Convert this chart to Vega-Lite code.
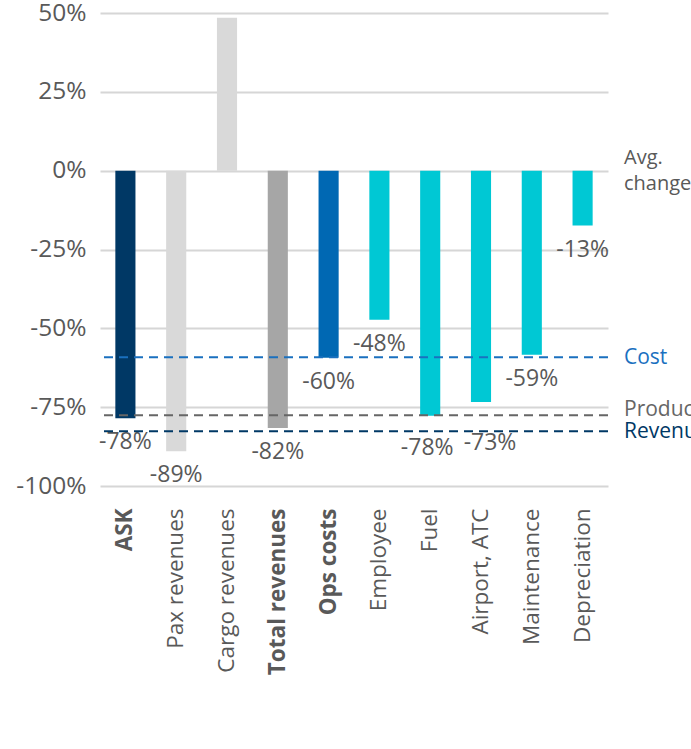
{
  "$schema": "https://vega.github.io/schema/vega-lite/v6.json",
  "width": 508,
  "height": 473,
  "autosize": "none",
  "padding": {"left": 100, "top": 13, "right": 83, "bottom": 263},
  "background": "white",
  "config": {"view": {"stroke": null}, "font": "Open Sans", "text": {"font": "Open Sans"}},
  "datasets": {
    "bars": [
      {"item": "ASK", "value": -78.5, "label": "-78%"},
      {"item": "Pax revenues", "value": -89, "label": "-89%"},
      {"item": "Cargo revenues", "value": 48.5, "label": null},
      {"item": "Total revenues", "value": -81.6, "label": "-82%"},
      {"item": "Ops costs", "value": -59.3, "label": "-60%"},
      {"item": "Employee", "value": -47.3, "label": "-48%"},
      {"item": "Fuel", "value": -77.7, "label": "-78%"},
      {"item": "Airport, ATC", "value": -73.4, "label": "-73%"},
      {"item": "Maintenance", "value": -58.4, "label": "-59%"},
      {"item": "Depreciation", "value": -17.4, "label": "-13%"}
    ],
    "refs": [
      {"name": "Cost", "value": -59.2},
      {"name": "Productivity", "value": -77.6},
      {"name": "Revenue", "value": -82.6}
    ]
  },
  "resolve": {"scale": {"color": "independent"}},
  "layer": [
    {
      "data": {"name": "bars"},
      "mark": {"type": "bar", "width": {"band": 0.44}},
      "encoding": {
        "x": {
          "field": "item", "type": "nominal", "sort": null,
          "axis": {
            "title": null, "domain": false, "ticks": false, "labelAngle": -90,
            "labelFontSize": 22.5, "labelColor": "#595959", "labelPadding": 22,
            "labelFontWeight": {"condition": {"test": "indexof(['ASK','Total revenues','Ops costs'], datum.value) >= 0", "value": "bold"}, "value": "normal"}
          }
        },
        "y": {
          "field": "value", "type": "quantitative",
          "scale": {"domain": [-100, 50], "nice": false},
          "axis": {
            "title": null, "domain": false, "ticks": false,
            "values": [-100, -75, -50, -25, 0, 25, 50],
            "labelExpr": "datum.value + '%'",
            "labelFontSize": 24.5, "labelColor": "#595959", "labelPadding": 14,
            "gridColor": "#d6d6d6", "gridWidth": 2
          }
        },
        "color": {
          "field": "item", "type": "nominal", "legend": null,
          "scale": {
            "domain": ["ASK", "Pax revenues", "Cargo revenues", "Total revenues", "Ops costs", "Employee", "Fuel", "Airport, ATC", "Maintenance", "Depreciation"],
            "range": ["#003865", "#d9d9d9", "#d9d9d9", "#a6a6a6", "#0068b3", "#00c8d4", "#00c8d4", "#00c8d4", "#00c8d4", "#00c8d4"]
          }
        }
      }
    },
    {
      "data": {"name": "bars"},
      "transform": [{"filter": "datum.label != null && datum.item != 'Fuel' && datum.item != 'Airport, ATC'"}],
      "mark": {"type": "text", "baseline": "middle", "dy": 24, "fontSize": 23, "color": "#595959"},
      "encoding": {
        "x": {"field": "item", "type": "nominal", "sort": null},
        "y": {"field": "value", "type": "quantitative"},
        "text": {"field": "label"}
      }
    },
    {
      "data": {"name": "bars"},
      "transform": [{"filter": "datum.item == 'Fuel'"}],
      "mark": {"type": "text", "baseline": "middle", "dx": -3, "fontSize": 23, "color": "#595959"},
      "encoding": {
        "x": {"field": "item", "type": "nominal", "sort": null},
        "y": {"datum": -88},
        "text": {"field": "label"}
      }
    },
    {
      "data": {"name": "bars"},
      "transform": [{"filter": "datum.item == 'Airport, ATC'"}],
      "mark": {"type": "text", "baseline": "middle", "dx": 9, "fontSize": 23, "color": "#595959"},
      "encoding": {
        "x": {"field": "item", "type": "nominal", "sort": null},
        "y": {"datum": -86.5},
        "text": {"field": "label"}
      }
    },
    {
      "data": {"name": "refs"},
      "mark": {"type": "rule", "strokeWidth": 2, "strokeDash": [9, 6]},
      "encoding": {
        "y": {"field": "value", "type": "quantitative"},
        "color": {
          "field": "name", "type": "nominal", "legend": null,
          "scale": {"domain": ["Cost", "Productivity", "Revenue"], "range": ["#1a70bf", "#666666", "#003865"]}
        }
      }
    },
    {
      "data": {"name": "refs"},
      "transform": [{"filter": "datum.name != 'Productivity'"}],
      "mark": {"type": "text", "align": "left", "baseline": "middle", "dx": 16, "dy": 1, "fontSize": 21},
      "encoding": {
        "x": {"value": "width"},
        "y": {"field": "value", "type": "quantitative"},
        "text": {"field": "name"},
        "color": {
          "field": "name", "type": "nominal", "legend": null,
          "scale": {"domain": ["Cost", "Productivity", "Revenue"], "range": ["#1a70bf", "#666666", "#003865"]}
        }
      }
    },
    {
      "data": {"name": "refs"},
      "transform": [{"filter": "datum.name == 'Productivity'"}],
      "mark": {"type": "text", "align": "left", "baseline": "middle", "dx": 16, "dy": -5, "fontSize": 21, "color": "#666666"},
      "encoding": {
        "x": {"value": "width"},
        "y": {"field": "value", "type": "quantitative"},
        "text": {"field": "name"}
      }
    },
    {
      "data": {"values": [{"v": 0}]},
      "mark": {"type": "text", "align": "left", "baseline": "middle", "dx": 16, "dy": -13, "lineHeight": 26, "fontSize": 20, "color": "#595959", "text": ["Avg.", "change"]},
      "encoding": {
        "x": {"value": "width"},
        "y": {"field": "v", "type": "quantitative"}
      }
    }
  ]
}
